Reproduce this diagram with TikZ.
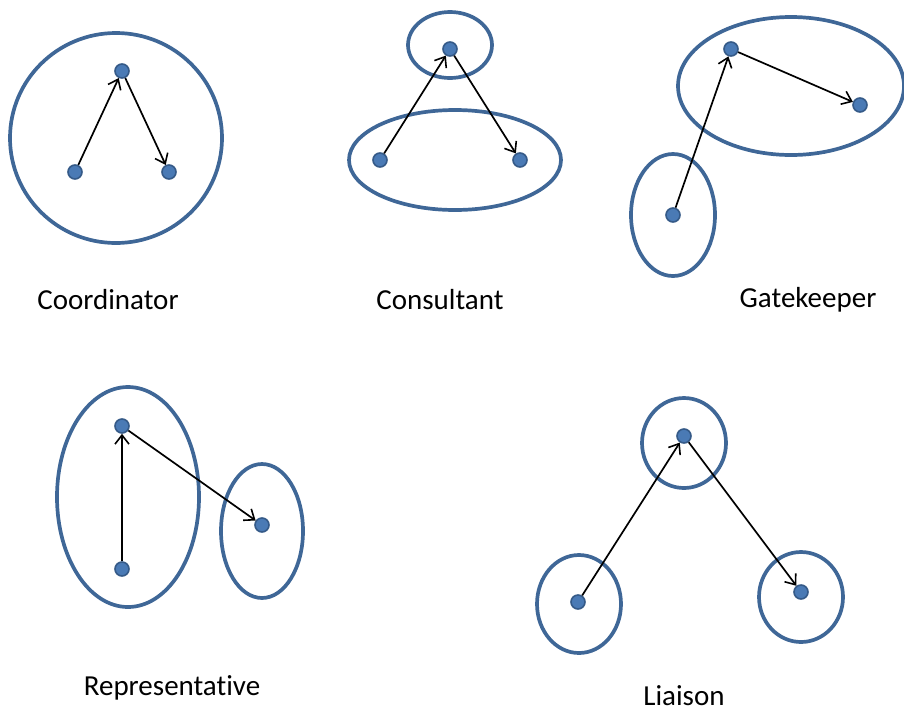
\documentclass[tikz,border=0pt]{standalone}
\usepackage{fontspec}
\setmainfont{Carlito}[Ligatures=NoCommon]
\usetikzlibrary{arrows.meta}
\definecolor{ring}{HTML}{3F6797}
\definecolor{dotfill}{HTML}{4A7AB5}
\definecolor{dotline}{HTML}{355A88}
\begin{document}
\begin{tikzpicture}[x=1pt,y=-1pt,
  ring/.style={draw=ring,line width=3.7pt},
  pt/.style={circle,fill=dotfill,draw=dotline,line width=1.6pt,minimum size=14pt,inner sep=0pt},
  link/.style={line width=1.7pt,-{Straight Barb[length=9pt,width=14pt,line width=1.6pt]}},
  lbl/.style={font=\fontsize{29}{33}\selectfont,inner sep=0pt}]
\useasboundingbox (0,0) rectangle (904,713);
% Coordinator
\draw[ring] (116,138) ellipse [x radius=106,y radius=105];
\node[pt] (c1) at (122,71) {};
\node[pt] (c2) at (75,172) {};
\node[pt] (c3) at (169,172) {};
\draw[link] (c2) -- (c1);
\draw[link] (c1) -- (c3);
\node[lbl] (lc) at (108,300) {Coordinator};
% Consultant
\draw[ring] (450,45) ellipse [x radius=42,y radius=33];
\draw[ring] (455,160) ellipse [x radius=106,y radius=50];
\node[pt] (k1) at (450,49) {};
\node[pt] (k2) at (380,160) {};
\node[pt] (k3) at (520,160) {};
\draw[link] (k2) -- (k1);
\draw[link] (k1) -- (k3);
\node[lbl] (lk) at (440,300) {Consultant};
% Gatekeeper
\draw[ring] (791,86) ellipse [x radius=113,y radius=69];
\draw[ring] (673,215) ellipse [x radius=42,y radius=61];
\node[pt] (g1) at (731,49) {};
\node[pt] (g2) at (860,105) {};
\node[pt] (g3) at (673,215) {};
\draw[link] (g3) -- (g1);
\draw[link] (g1) -- (g2);
\node[lbl] (lg) at (808,300) {Gatekeeper};
% Representative
\draw[ring] (128,497) ellipse [x radius=71,y radius=110];
\draw[ring] (262,531) ellipse [x radius=41,y radius=67];
\node[pt] (r1) at (122,426) {};
\node[pt] (r2) at (122,569) {};
\node[pt] (r3) at (262,525) {};
\draw[link] (r2) -- (r1);
\draw[link] (r1) -- (r3);
\node[lbl] (lr) at (172,688) {Representative};
% Liaison
\draw[ring] (684,443) ellipse [x radius=42,y radius=45];
\draw[ring] (579,604) ellipse [x radius=42,y radius=49];
\draw[ring] (801,597) ellipse [x radius=42,y radius=45];
\node[pt] (l1) at (684,436) {};
\node[pt] (l2) at (578,602) {};
\node[pt] (l3) at (801,592) {};
\draw[link] (l2) -- (l1);
\draw[link] (l1) -- (l3);
\node[lbl] (ll) at (684,696) {Liaison};
\end{tikzpicture}
\end{document}
